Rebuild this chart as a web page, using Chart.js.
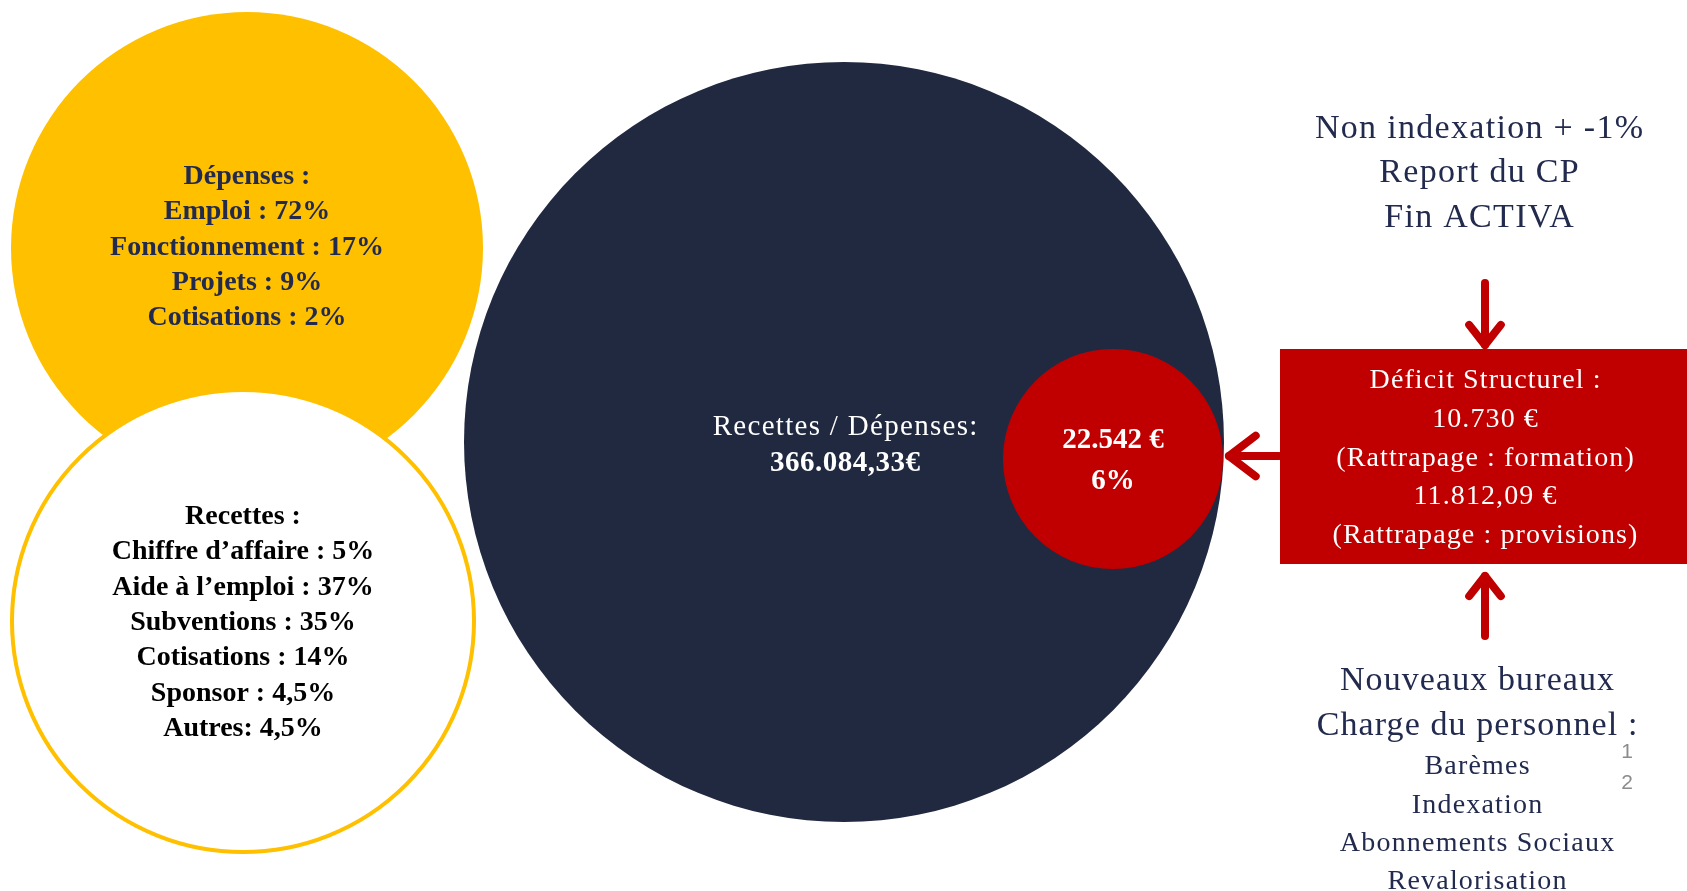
<!DOCTYPE html>
<html>
<head>
<meta charset="utf-8">
<script src="https://cdn.jsdelivr.net/npm/chart.js@4"></script>
<style>
  html, body { margin: 0; padding: 0; background: #fff; overflow: hidden; }
  canvas { display: block; }
</style>
</head>
<body>
<canvas id="myChart" width="1687" height="891"></canvas>
<script>
// ---- donnees ----
var depensesLabels = ['Emploi :', 'Fonctionnement :', 'Projets :', 'Cotisations :'];
var depensesValues = [72, 17, 9, 2];
var recettesLabels = ['Chiffre d\u2019affaire :', 'Aide \u00e0 l\u2019emploi :', 'Subventions :', 'Cotisations :', 'Sponsor :', 'Autres:'];
var recettesValues = [5, 37, 35, 14, 4.5, 4.5];
var totalBudget = 366084.33;
var deficitTotal = 22542;
var deficitPct = 6;
var deficitStructurel = 10730;
var rattrapageProvisions = 11812.09;
var causesHaut = ['Non indexation + -1%', 'Report du CP', 'Fin ACTIVA'];
var causesBas = ['Nouveaux bureaux', 'Charge du personnel :'];
var causesPersonnel = ['Bar\u00e8mes', 'Indexation', 'Abonnements Sociaux', 'Revalorisation'];

// ---- mise en page (pixels) ----
var bubblePos = [
    {x: 247, y: 248, r: 236},   // depenses
    {x: 243, y: 621, r: 231},   // recettes
    {x: 844, y: 442, r: 380},   // total
    {x: 1113, y: 459, r: 110}   // deficit
];
var bubbleColors = ['#FFC000', '#FFFFFF', '#212940', '#C00000'];
var bubbleBorders = ['#FFC000', '#FFC000', '#212940', '#C00000'];
var bubbleBorderW = [0, 4, 0, 0];

var navy = '#222A4E';
var red = '#C00000';
var serif = '"Liberation Serif", "DejaVu Serif", serif';

function fmtNum(v, dec) {
    var parts = v.toFixed(dec).split('.');
    var ent = parts[0].replace(/\B(?=(\d{3})+(?!\d))/g, '.');
    return dec > 0 ? ent + ',' + parts[1] : ent;
}
function fmtPct(v) {
    return String(v).replace('.', ',') + '%';
}

var textPlugin = {
    id: 'textes',
    afterDatasetsDraw: function(chart) {
        var ctx = chart.ctx;
        var sx = chart.scales.x, sy = chart.scales.y;
        function px(x) { return sx.getPixelForValue(x); }
        function py(y) { return sy.getPixelForValue(y); }
        function txt(s, x, y, font, color, spacing) {
            ctx.font = font;
            ctx.fillStyle = color;
            ctx.textAlign = 'center';
            ctx.textBaseline = 'middle';
            ctx.letterSpacing = (spacing || 0) + 'px';
            ctx.fillText(s, px(x) + (spacing || 0) / 2, py(y));
            ctx.letterSpacing = '0px';
        }
        function arrow(x1, y1, x2, y2, head) {
            var a = Math.atan2(py(y2) - py(y1), px(x2) - px(x1));
            ctx.strokeStyle = red;
            ctx.lineWidth = 8;
            ctx.lineCap = 'round';
            ctx.lineJoin = 'round';
            ctx.beginPath();
            ctx.moveTo(px(x1), py(y1));
            ctx.lineTo(px(x2) - 3 * Math.cos(a), py(y2) - 3 * Math.sin(a));
            ctx.stroke();
            ctx.beginPath();
            ctx.moveTo(px(x2) - head * Math.cos(a - 0.6), py(y2) - head * Math.sin(a - 0.6));
            ctx.lineTo(px(x2) - 3 * Math.cos(a), py(y2) - 3 * Math.sin(a));
            ctx.lineTo(px(x2) - head * Math.cos(a + 0.6), py(y2) - head * Math.sin(a + 0.6));
            ctx.stroke();
        }
        ctx.save();

        // cercle depenses
        txt('D\u00e9penses :', 247, 177, 'bold 28px ' + serif, navy);
        depensesLabels.forEach(function(l, i) {
            txt(l + ' ' + fmtPct(depensesValues[i]), 247, 212 + i * 35.3, 'bold 28px ' + serif, navy);
        });

        // cercle recettes
        txt('Recettes :', 243, 517, 'bold 28px ' + serif, '#000');
        recettesLabels.forEach(function(l, i) {
            txt(l + ' ' + fmtPct(recettesValues[i]), 243, 552 + i * 35.4, 'bold 28px ' + serif, '#000');
        });

        // cercle total
        txt('Recettes / D\u00e9penses:', 845, 427, '29px ' + serif, '#fff', 1.3);
        txt(fmtNum(totalBudget, 2) + '\u20ac', 845, 464, 'bold 29px ' + serif, '#fff', 0.5);

        // cercle deficit
        txt(fmtNum(deficitTotal, 0) + ' \u20ac', 1113, 441, 'bold 29px ' + serif, '#fff');
        txt(fmtPct(deficitPct), 1113, 482, 'bold 29px ' + serif, '#fff');

        // boite deficit structurel
        ctx.fillStyle = red;
        ctx.fillRect(px(1280), py(349), px(1687) - px(1280), py(564) - py(349));
        var boxLines = ['D\u00e9ficit Structurel :', fmtNum(deficitStructurel, 0) + ' \u20ac', '(Rattrapage : formation)',
                        fmtNum(rattrapageProvisions, 2) + ' \u20ac', '(Rattrapage : provisions)'];
        boxLines.forEach(function(l, i) {
            txt(l, 1485, 381 + i * 38.7, '28px ' + serif, '#fff', 1.1);
        });

        // fleches
        arrow(1485, 283, 1485, 348, 28);
        arrow(1279, 456, 1226, 456, 36);
        arrow(1485, 636, 1485, 573, 28);

        // textes de droite
        causesHaut.forEach(function(l, i) {
            txt(l, 1479, 129 + i * 44.5, '34px ' + serif, navy, 1.3);
        });
        causesBas.forEach(function(l, i) {
            txt(l, 1477, 681 + i * 45, '34px ' + serif, navy, 1.1);
        });
        causesPersonnel.forEach(function(l, i) {
            txt(l, 1477, 767 + i * 38.3, '28px ' + serif, navy, 1.2);
        });
        txt('1', 1627, 752, '21px "Liberation Sans", sans-serif', '#8c8c8c');
        txt('2', 1627, 783, '21px "Liberation Sans", sans-serif', '#8c8c8c');

        ctx.restore();
    }
};

var ctx = document.getElementById('myChart');
var myChart = new Chart(ctx, {
    type: 'bubble',
    data: {
        datasets: [{
            data: bubblePos,
            backgroundColor: bubbleColors,
            borderColor: bubbleBorders,
            borderWidth: bubbleBorderW,
            hoverRadius: 0,
            hoverBorderWidth: 0,
            clip: false
        }]
    },
    options: {
        responsive: false,
        animation: false,
        devicePixelRatio: 1,
        events: [],
        layout: { autoPadding: false, padding: 0 },
        plugins: { legend: { display: false }, tooltip: { enabled: false } },
        scales: {
            x: { type: 'linear', min: 0, max: 1687, display: false },
            y: { type: 'linear', min: 0, max: 891, reverse: true, display: false }
        }
    },
    plugins: [textPlugin]
});
</script>
</body>
</html>
